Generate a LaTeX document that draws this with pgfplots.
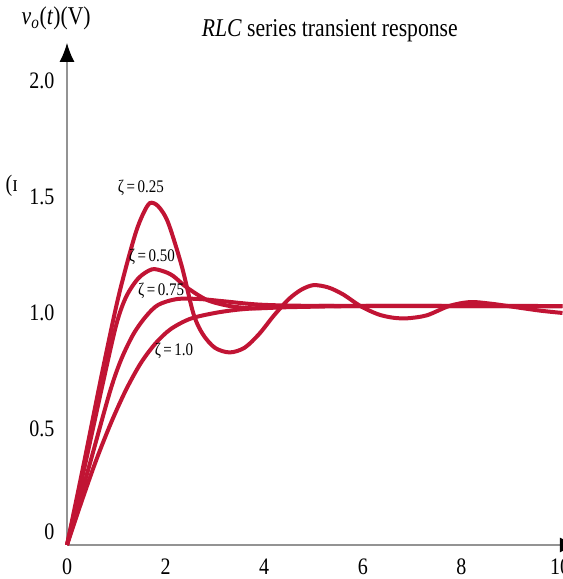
\documentclass[border=0pt]{standalone}
\usepackage{fontspec}
\setmainfont{Liberation Serif}
\usepackage{pgfplots}
\pgfplotsset{compat=1.18}
\usetikzlibrary{arrows.meta}
\definecolor{rlcred}{RGB}{193,20,52}
% the reference text is a little stretched vertically
\newcommand{\sy}[1]{\scalebox{1}[1.18]{#1}}

\begin{document}
\begin{tikzpicture}
\begin{axis}[
    x=29.58pt, y=139.2pt,
    xmin=0, xmax=10.37, ymin=0, ymax=2.164,
    axis lines=left,
    clip=false,
    axis line style={gray!85, line width=0.8pt},
    x axis line style={-{Latex[length=11pt,width=9pt,color=black]}},
    y axis line style={-{Latex[length=11.4pt,width=9pt,color=black]}},
    major tick length=0pt,
    xtick={0,2,4,6,8,10},
    xticklabels={\sy{0},\sy{2},\sy{4},\sy{6},\sy{8},\sy{10}},
    ytick={0,0.5,1,1.5,2},
    yticklabels={,\sy{0.5},\sy{1.0},\sy{1.5},\sy{2.0}},
    tick label style={font=\fontsize{12}{14}\selectfont},
    xticklabel style={yshift=-5pt},
    yticklabel style={xshift=-4pt},
]
% zeta = 0.25
\addplot[rlcred, line width=2.4pt, smooth, no marks] coordinates {
    (0,0) (0.35,0.36) (0.7,0.73) (1.0,1.03) (1.2,1.2) (1.4,1.35) (1.55,1.43) (1.684,1.474)
    (1.85,1.46) (2.05,1.39) (2.33,1.2) (2.56,1.0) (2.75,0.91) (3.0,0.85) (3.3,0.83)
    (3.6,0.85) (3.9,0.91) (4.2,0.99) (4.5,1.06) (4.75,1.10) (5.0,1.12) (5.3,1.11)
    (5.6,1.08) (5.95,1.03) (6.3,0.995) (6.6,0.98) (6.9,0.977) (7.3,0.99) (7.75,1.03)
    (8.17,1.047) (8.6,1.04) (9.1,1.025) (9.6,1.01) (10.05,1.0)
};
% zeta = 0.50
\addplot[rlcred, line width=2.4pt, smooth, no marks] coordinates {
    (0,0) (0.35,0.33) (0.73,0.70) (1.0,0.95) (1.2,1.07) (1.45,1.15) (1.72,1.188) (1.95,1.18)
    (2.15,1.16) (2.43,1.11) (2.84,1.056) (3.3,1.03) (3.8,1.02) (4.5,1.025) (6,1.03)
    (8,1.03) (10.05,1.03)
};
% zeta = 0.75
\addplot[rlcred, line width=2.4pt, smooth, no marks] coordinates {
    (0,0) (0.45,0.34) (0.87,0.66) (1.1,0.8) (1.35,0.91) (1.6,0.985) (1.85,1.035) (2.23,1.06)
    (2.7,1.06) (3.2,1.05) (4,1.035) (5.5,1.03) (10.05,1.03)
};
% zeta = 1.0
\addplot[rlcred, line width=2.4pt, smooth, no marks] coordinates {
    (0,0) (0.3,0.19) (0.6,0.37) (0.9,0.53) (1.2,0.67) (1.5,0.785) (1.8,0.87) (2.1,0.93)
    (2.5,0.975) (3.0,1.0) (3.5,1.015) (4.2,1.025) (5,1.03) (10.05,1.03)
};

\node[font=\fontsize{9}{11}\selectfont] at (axis cs:1.50,1.539) {\sy{ζ\,=\,0.25}};
\node[font=\fontsize{9}{11}\selectfont] at (axis cs:1.72,1.241) {\sy{ζ\,=\,0.50}};
\node[font=\fontsize{9}{11}\selectfont] at (axis cs:1.91,1.095) {\sy{ζ\,=\,0.75}};
\node[font=\fontsize{9}{11}\selectfont] at (axis cs:2.17,0.836) {\sy{ζ\,=\,1.0}};

\node[font=\fontsize{12}{14}\selectfont] at (axis cs:-0.355,0.056) {\sy{0}};
\node[font=\fontsize{13}{15}\selectfont] at (axis cs:5.33,2.215) {\sy{\textit{RLC} series transient response}};
\node[font=\fontsize{13}{15}\selectfont] at (axis cs:-0.22,2.27) {\sy{\textit{v}\textsubscript{\textit{o}}(\textit{t})(V)}};
\node[font=\fontsize{12}{14}\selectfont] at (axis cs:-1.12,1.547) {\sy{(ɪ}};

\coordinate (ll) at (axis cs:-1.359,-0.1466);
\coordinate (ur) at (axis cs:10.06,2.349);
\end{axis}
\pgfresetboundingbox
\path[use as bounding box] (ll) rectangle (ur);
\end{tikzpicture}
\end{document}
